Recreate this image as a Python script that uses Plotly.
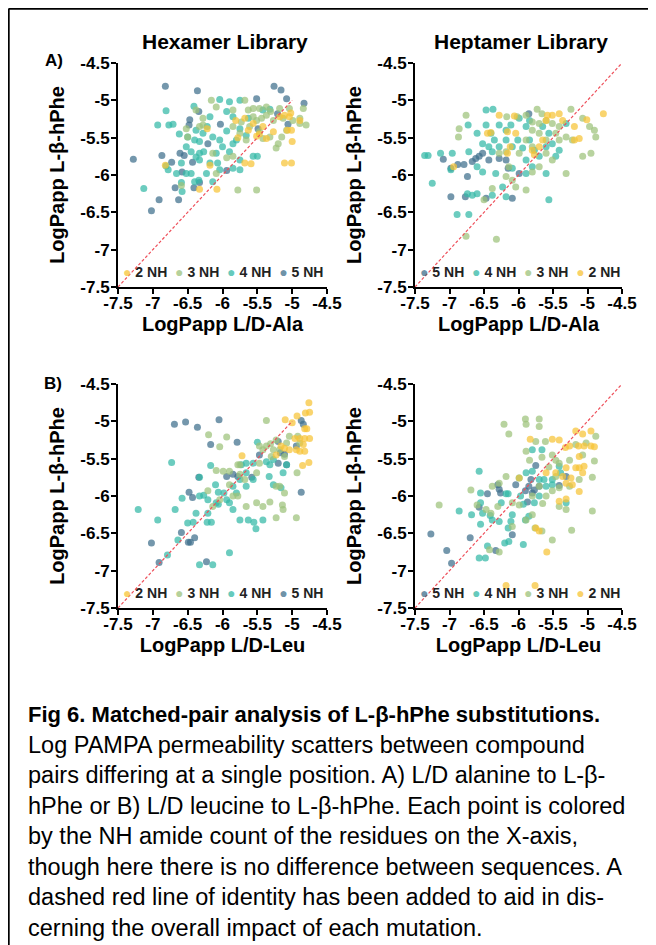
import plotly.graph_objects as go

# page is offset by the browser's 8px body margin; coordinates below are reference pixels
OX, OY = 8, 8
W, H = 656 - OX, 945 - OY

# ---------------- tick labels / categories ----------------
tick_vals = [-7.5, -7, -6.5, -6, -5.5, -5, -4.5]
tick_text = ["-7.5", "-7", "-6.5", "-6", "-5.5", "-5", "-4.5"]
nh_counts = [2, 3, 4, 5]
nh_colors = {2: (247, 196, 54), 3: (157, 194, 122), 4: (51, 185, 166), 5: (63, 111, 140)}

# ---------------- data (x, y) per panel and NH count ----------------
hex_ala_5nh = [(-6.82,-4.81),(-6.36,-4.87),(-7.28,-5.79),(-6.87,-5.74),(-6.34,-5.15),(-6.48,-5.33),(-6.21,-5.58),
               (-6.73,-5.83),(-6.61,-5.71),(-6.55,-5.74),(-6.43,-5.83),(-6.41,-6.17),(-6.68,-6.17),(-6.63,-6.33),
               (-6.91,-6.33),(-7.02,-6.48),(-6.58,-5.96),(-6.03,-5.32),(-5.94,-5.94),(-5.51,-4.98),(-5.26,-4.81),
               (-5.16,-4.86),(-5.08,-4.98),(-5.06,-5.32),(-4.83,-5.04),(-5.21,-5.18),(-5.49,-5.38),(-6.33,-6.10),
               (-6.47,-5.26)]
hex_ala_4nh = [(-7.13,-6.18),(-6.93,-5.33),(-6.81,-5.14),(-6.77,-5.33),(-6.71,-5.32),(-6.62,-5.45),(-6.50,-5.49),
               (-6.58,-6.22),(-6.78,-5.93),(-6.81,-5.88),(-6.66,-5.98),(-6.45,-5.98),(-6.34,-6.07),(-6.41,-5.08),
               (-6.33,-5.55),(-6.28,-5.44),(-6.22,-5.35),(-6.14,-5.49),(-6.04,-4.99),(-5.90,-5.02),(-5.75,-5.00),
               (-6.09,-5.71),(-6.07,-5.84),(-6.00,-5.62),(-5.90,-5.69),(-5.85,-5.58),(-5.80,-5.53),(-5.75,-5.38),
               (-5.66,-5.47),(-5.63,-5.24),(-5.94,-5.15),(-6.33,-5.71),(-6.38,-5.76),(-6.27,-5.69),(-6.18,-5.84),
               (-6.23,-5.98),(-6.14,-6.09),(-6.40,-6.09),(-6.52,-5.98),(-6.59,-5.84),(-5.56,-5.75),(-5.50,-5.75),
               (-5.42,-5.13),(-5.32,-5.12),(-5.75,-5.80),(-5.85,-5.91),(-6.04,-5.93),(-5.94,-5.41),(-6.18,-5.22),
               (-5.75,-5.93),(-6.04,-5.53),(-6.40,-5.53),(-6.38,-5.40),(-6.45,-5.69),(-6.52,-5.62),(-6.59,-6.10),
               (-5.85,-5.22),(-6.33,-5.80)]
hex_ala_3nh = [(-6.16,-5.00),(-6.38,-5.13),(-6.28,-5.33),(-6.52,-5.38),(-6.50,-5.49),(-6.09,-5.09),(-5.85,-5.13),
               (-5.68,-5.00),(-5.63,-5.13),(-5.56,-5.11),(-5.47,-5.11),(-5.37,-5.09),(-5.31,-5.15),(-5.18,-5.11),
               (-5.04,-5.11),(-4.84,-5.11),(-5.85,-5.35),(-5.73,-5.29),(-5.56,-5.22),(-5.51,-5.27),(-5.44,-5.24),
               (-5.37,-5.20),(-5.27,-5.27),(-5.13,-5.24),(-4.99,-5.27),(-4.89,-5.31),(-4.80,-5.33),(-4.89,-5.24),
               (-5.08,-5.40),(-5.15,-5.49),(-5.23,-5.64),(-5.20,-5.58),(-5.42,-5.51),(-5.66,-5.53),(-5.75,-5.44),
               (-5.78,-6.20),(-5.51,-6.20),(-6.09,-5.98),(-6.14,-5.71),(-6.33,-5.35),(-6.28,-5.24),(-5.85,-5.75),
               (-5.94,-5.77),(-6.59,-6.14),(-5.61,-5.35),(-5.32,-5.49),(-5.47,-5.42)]
hex_ala_2nh = [(-6.82,-5.87),(-6.33,-6.19),(-6.08,-6.19),(-6.18,-5.87),(-6.22,-5.38),(-5.78,-5.50),(-5.81,-5.27),
               (-5.68,-5.84),(-5.59,-5.85),(-5.51,-5.48),(-5.47,-5.45),(-5.42,-5.35),(-5.37,-5.51),(-5.27,-5.42),
               (-5.18,-5.22),(-5.11,-5.20),(-5.04,-5.22),(-5.02,-5.17),(-5.07,-5.40),(-5.01,-5.40),(-5.00,-5.55),
               (-5.11,-5.84),(-5.01,-5.84),(-4.89,-5.27),(-5.56,-5.31),(-5.63,-5.40),(-5.68,-5.24)]

hept_ala_5nh = [(-6.98,-6.29),(-6.77,-6.29),(-6.47,-6.31),(-6.09,-6.31),(-6.88,-5.86),(-6.79,-5.86),(-6.67,-5.82),
                (-6.57,-5.75),(-6.52,-5.71),(-6.43,-5.80),(-6.62,-5.78),(-6.28,-5.78),(-6.18,-5.80),(-5.99,-5.98),
                (-5.85,-5.18),(-6.74,-6.02),(-7.09,-5.79),(-6.98,-5.91),(-6.15,-5.91)]
hept_ala_4nh = [(-7.36,-5.74),(-7.31,-5.74),(-7.25,-6.11),(-7.13,-5.71),(-6.96,-5.71),(-6.98,-5.93),(-6.89,-6.53),
                (-6.72,-6.53),(-6.74,-6.25),(-6.67,-6.27),(-6.60,-6.25),(-6.72,-5.69),(-6.73,-5.33),(-6.60,-5.44),
                (-6.47,-5.33),(-6.37,-5.12),(-6.40,-5.44),(-6.35,-5.53),(-6.28,-5.33),(-6.18,-5.40),(-6.11,-5.33),
                (-5.99,-5.24),(-5.89,-5.35),(-5.84,-5.27),(-6.43,-5.62),(-6.52,-5.58),(-6.38,-5.69),(-6.28,-5.62),
                (-6.18,-5.53),(-6.09,-5.62),(-6.01,-5.53),(-5.94,-5.64),(-5.84,-5.53),(-5.77,-5.67),(-5.70,-5.75),
                (-5.60,-5.62),(-5.51,-5.58),(-5.41,-5.67),(-5.31,-5.31),(-5.65,-5.35),(-5.56,-5.44),(-6.09,-5.91),
                (-6.18,-6.29),(-6.23,-6.16),(-6.38,-6.27),(-6.33,-5.98),(-6.52,-5.96),(-6.60,-5.89),(-5.89,-5.80),
                (-5.80,-5.89),(-5.60,-5.98),(-5.56,-6.33),(-5.89,-5.98),(-5.46,-5.75),(-6.47,-5.13)]
hept_ala_3nh = [(-6.86,-5.38),(-6.87,-5.49),(-6.76,-5.20),(-6.76,-6.82),(-6.32,-6.86),(-6.38,-6.18),(-6.50,-6.33),
                (-6.17,-5.22),(-6.02,-5.22),(-5.89,-5.20),(-5.73,-5.12),(-5.66,-5.18),(-5.80,-5.29),(-5.70,-5.31),
                (-5.60,-5.27),(-5.51,-5.31),(-5.41,-5.35),(-5.24,-5.12),(-5.07,-5.24),(-4.97,-5.35),(-4.90,-5.40),
                (-4.88,-5.49),(-4.95,-5.71),(-5.07,-5.75),(-5.22,-5.53),(-5.31,-5.49),(-5.41,-5.53),(-5.31,-5.98),
                (-5.51,-5.80),(-5.60,-5.71),(-5.70,-5.89),(-5.80,-5.96),(-5.89,-6.20),(-6.04,-6.16),(-6.09,-6.07),
                (-6.18,-6.02),(-6.28,-5.71),(-6.18,-5.69),(-5.89,-5.53),(-5.80,-5.62),(-5.60,-5.53),(-5.46,-5.44),
                (-6.14,-5.89),(-5.99,-5.71),(-5.70,-5.44),(-5.80,-5.40)]
hept_ala_2nh = [(-4.77,-5.18),(-5.01,-5.26),(-5.19,-5.35),(-5.12,-5.51),(-5.19,-5.53),(-5.36,-5.27),(-5.51,-5.20),
                (-5.58,-5.20),(-5.60,-5.27),(-5.65,-5.53),(-5.80,-5.67),(-5.77,-5.73),(-5.70,-5.62),(-6.06,-5.21),
                (-6.28,-5.20),(-6.45,-5.44),(-6.40,-5.43),(-6.16,-5.42),(-6.04,-5.44),(-6.12,-5.62),(-6.16,-5.71),
                (-6.94,-5.89),(-5.41,-5.18)]

hex_leu_5nh = [(-6.69,-5.04),(-6.53,-5.01),(-6.36,-5.08),(-6.05,-4.98),(-6.17,-5.31),(-5.79,-5.28),(-6.48,-5.95),
               (-6.43,-6.02),(-6.34,-5.75),(-6.59,-6.49),(-6.49,-6.62),(-6.46,-6.62),(-6.40,-6.56),(-7.02,-6.63),
               (-6.91,-6.89),(-6.23,-6.88),(-5.94,-5.74),(-5.85,-5.71),(-5.78,-5.74),(-5.58,-5.75),(-5.47,-5.45),
               (-5.20,-5.27),(-5.17,-5.42),(-5.11,-5.44),(-5.08,-5.58),(-4.94,-5.33),(-4.87,-4.99),(-4.84,-5.04),
               (-4.87,-5.95),(-5.20,-5.56)]
hex_leu_4nh = [(-7.21,-6.18),(-6.93,-6.32),(-6.68,-6.18),(-6.79,-6.79),(-6.64,-6.59),(-6.58,-6.03),(-6.50,-6.36),
               (-6.42,-6.35),(-6.38,-6.23),(-6.33,-6.00),(-6.27,-5.99),(-6.21,-6.05),(-6.21,-6.23),(-6.16,-6.35),
               (-6.22,-6.35),(-6.17,-5.59),(-6.33,-5.75),(-6.73,-5.55),(-6.10,-5.85),(-6.09,-6.09),(-6.06,-5.95),
               (-5.98,-5.96),(-5.94,-6.05),(-5.90,-6.09),(-5.85,-5.87),(-5.80,-5.96),(-5.75,-5.78),(-5.66,-5.87),
               (-5.66,-5.69),(-5.56,-5.78),(-5.85,-6.18),(-5.75,-6.32),(-5.63,-6.32),(-5.55,-6.35),(-5.52,-6.44),
               (-5.42,-6.32),(-5.33,-5.74),(-5.27,-5.85),(-5.16,-5.89),(-5.32,-5.58),(-5.27,-5.51),(-5.37,-5.54),
               (-5.50,-5.28),(-5.13,-5.69),(-5.08,-5.58),(-5.90,-6.76),(-6.33,-6.92),(-6.14,-6.92),(-6.06,-6.11),
               (-5.66,-5.56),(-5.73,-5.58),(-5.56,-5.56)]
hex_leu_3nh = [(-6.20,-5.18),(-5.94,-5.21),(-6.04,-5.34),(-5.37,-4.99),(-5.75,-5.58),(-6.09,-5.66),(-5.99,-5.67),
               (-5.90,-5.67),(-5.78,-5.58),(-5.85,-6.00),(-5.78,-6.00),(-5.90,-5.85),(-5.66,-6.14),(-5.51,-6.09),
               (-5.42,-6.14),(-5.32,-6.08),(-5.23,-5.87),(-5.18,-5.87),(-5.11,-5.96),(-5.14,-6.12),(-5.13,-6.18),
               (-5.23,-6.29),(-4.94,-6.29),(-4.93,-5.69),(-5.47,-5.33),(-5.42,-5.38),(-5.37,-5.33),(-5.31,-5.30),
               (-5.23,-5.25),(-5.27,-5.38),(-5.18,-5.38),(-5.08,-5.29),(-5.04,-5.20),(-4.92,-5.20),(-4.89,-5.29),
               (-5.47,-5.56),(-5.51,-5.69),(-5.75,-5.71),(-5.68,-5.78),(-6.14,-6.14),(-6.21,-5.93),(-6.04,-6.05),
               (-5.30,-5.47),(-5.11,-5.47)]
hex_leu_2nh = [(-5.72,-5.46),(-5.10,-4.98),(-5.00,-5.02),(-4.93,-4.93),(-4.76,-4.75),(-4.75,-4.88),(-4.81,-4.89),
               (-4.82,-5.10),(-4.79,-5.10),(-4.96,-5.23),(-4.89,-5.23),(-4.82,-5.23),(-4.75,-5.23),(-4.84,-5.31),
               (-4.89,-5.40),(-4.82,-5.40),(-4.76,-5.55),(-4.85,-5.59),(-5.04,-5.38),(-5.11,-5.36),(-5.16,-5.33),
               (-5.23,-5.45),(-4.94,-5.38)]

hept_leu_5nh = [(-7.27,-6.51),(-7.04,-6.73),(-6.97,-6.90),(-6.70,-6.56),(-6.57,-6.15),(-6.45,-5.97),(-6.30,-5.85),
                (-6.28,-5.91),(-6.26,-5.96),(-6.33,-6.73),(-6.09,-6.52),(-6.04,-5.85),(-5.90,-5.93),(-5.85,-5.87),
                (-5.80,-5.96),(-5.77,-5.92),(-5.75,-5.59),(-5.70,-5.87),(-5.87,-6.08),(-5.31,-5.74),(-5.41,-5.86),
                (-5.82,-5.78)]
hept_leu_4nh = [(-6.86,-6.20),(-6.68,-6.25),(-6.57,-5.67),(-6.55,-5.96),(-6.55,-6.09),(-6.52,-6.23),(-6.55,-6.38),
                (-6.57,-6.83),(-6.48,-6.83),(-6.45,-6.67),(-6.41,-6.26),(-6.38,-6.32),(-6.28,-6.34),(-6.25,-6.09),
                (-6.20,-6.63),(-6.14,-6.61),(-6.11,-6.34),(-6.15,-6.43),(-6.09,-6.25),(-6.15,-5.97),(-5.93,-6.65),
                (-5.93,-6.11),(-5.97,-6.00),(-5.90,-6.32),(-5.85,-6.27),(-5.77,-6.09),(-5.70,-6.00),(-5.99,-5.76),
                (-5.89,-5.69),(-5.80,-5.67),(-5.70,-5.78),(-5.63,-5.78),(-5.80,-5.38),(-5.66,-5.38),(-5.60,-5.87),
                (-5.51,-5.85),(-5.41,-5.60),(-5.39,-5.69),(-5.51,-5.78),(-5.31,-6.09),(-6.18,-5.97)]
hept_leu_3nh = [(-7.15,-6.12),(-6.69,-5.92),(-6.60,-6.12),(-6.42,-6.72),(-6.28,-6.75),(-6.14,-5.17),(-6.21,-5.04),
                (-5.90,-4.97),(-5.89,-5.04),(-5.70,-4.97),(-5.70,-5.07),(-5.61,-5.27),(-5.89,-5.40),(-5.84,-5.52),
                (-5.75,-5.27),(-5.66,-5.48),(-5.56,-5.61),(-5.51,-5.45),(-5.46,-5.52),(-5.41,-5.56),(-5.26,-5.52),
                (-5.17,-5.31),(-5.07,-5.45),(-5.02,-5.29),(-4.88,-5.20),(-4.90,-5.53),(-4.93,-5.75),(-4.93,-6.20),
                (-5.23,-6.46),(-5.51,-6.59),(-5.66,-6.47),(-5.76,-6.43),(-5.80,-6.25),(-5.89,-6.32),(-5.99,-6.12),
                (-6.09,-6.09),(-6.18,-5.74),(-6.28,-5.83),(-6.38,-5.87),(-6.47,-6.18),(-6.40,-6.23),(-6.30,-6.14),
                (-5.65,-6.10),(-5.60,-6.00),(-5.51,-5.93),(-5.41,-6.14),(-5.31,-6.18),(-5.26,-5.87),(-5.41,-5.89),
                (-5.70,-5.87),(-5.80,-6.00),(-5.12,-5.78),(-5.46,-5.74),(-6.09,-6.41)]
hept_leu_2nh = [(-6.18,-7.20),(-5.76,-7.20),(-5.59,-6.75),(-5.75,-6.43),(-5.70,-6.47),(-5.99,-5.76),(-5.83,-5.24),
                (-5.51,-5.24),(-5.41,-5.25),(-5.32,-5.35),(-5.26,-5.33),(-5.17,-5.13),(-5.07,-5.17),(-4.95,-5.13),
                (-5.13,-5.33),(-5.05,-5.33),(-4.95,-5.33),(-4.90,-5.34),(-5.12,-5.47),(-5.05,-5.60),(-5.07,-5.69),
                (-5.17,-5.62),(-5.31,-5.62),(-5.24,-5.76),(-5.31,-5.83),(-5.22,-5.85),(-5.12,-5.94),(-5.41,-6.07),
                (-5.31,-6.04),(-5.12,-5.62),(-5.46,-5.69),(-5.60,-5.69),(-5.36,-5.74)]

# identity lines
identity_short = [-7.5, -5.0]
identity_long = [-7.5, -4.5]

# ---------------- layout helpers ----------------
def px(xp):
    return (xp - OX) / W

def py(yp):
    return 1 - (yp - OY) / H

def rgba(c, a):
    return f"rgba({c[0]},{c[1]},{c[2]},{a})"

FONT = "Liberation Sans, Arial, sans-serif"

panels = [
    dict(series={2: hex_ala_2nh, 3: hex_ala_3nh, 4: hex_ala_4nh, 5: hex_ala_5nh},
         xd=(118, 327), yd=(63, 287), xtitle="LogPapp L/D-Ala", order=[2, 3, 4, 5], diag=identity_short),
    dict(series={2: hept_ala_2nh, 3: hept_ala_3nh, 4: hept_ala_4nh, 5: hept_ala_5nh},
         xd=(415, 622), yd=(63, 287), xtitle="LogPapp L/D-Ala", order=[5, 4, 3, 2], diag=identity_long),
    dict(series={2: hex_leu_2nh, 3: hex_leu_3nh, 4: hex_leu_4nh, 5: hex_leu_5nh},
         xd=(118, 327), yd=(384, 608), xtitle="LogPapp L/D-Leu", order=[2, 3, 4, 5], diag=identity_short),
    dict(series={2: hept_leu_2nh, 3: hept_leu_3nh, 4: hept_leu_4nh, 5: hept_leu_5nh},
         xd=(415, 622), yd=(384, 608), xtitle="LogPapp L/D-Leu", order=[5, 4, 3, 2], diag=identity_long),
]

fig = go.Figure()
annotations = []
layout_axes = {}

for i, p in enumerate(panels, start=1):
    xa = "x" if i == 1 else f"x{i}"
    ya = "y" if i == 1 else f"y{i}"
    for nh in [5, 4, 3, 2]:
        pts = p["series"][nh]
        fig.add_trace(go.Scatter(
            x=[a for a, b in pts], y=[b for a, b in pts], mode="markers",
            name=f"{nh} NH", showlegend=False, xaxis=xa, yaxis=ya,
            marker=dict(color=rgba(nh_colors[nh], 1), size=7, opacity=0.72, line=dict(width=0)),
        ))
    fig.add_trace(go.Scatter(
        x=p["diag"], y=p["diag"], mode="lines", showlegend=False, xaxis=xa, yaxis=ya,
        line=dict(color="#EE4F5A", width=1.2, dash="3px,2px"), hoverinfo="skip",
    ))

    common = dict(range=[-7.5, -4.5], tickmode="array", tickvals=tick_vals, ticktext=tick_text,
                  showgrid=False, zeroline=False, showline=True, linecolor="black", linewidth=2,
                  ticks="outside", ticklen=5, tickwidth=2, tickcolor="black", automargin=False,
                  tickfont=dict(family=FONT, size=17, color="black", weight="bold"))
    xkey = "xaxis" if i == 1 else f"xaxis{i}"
    ykey = "yaxis" if i == 1 else f"yaxis{i}"
    layout_axes[xkey] = dict(common, domain=[px(p["xd"][0]), px(p["xd"][1])], anchor=ya,
                             ticklabelstandoff=-5,
                             title=dict(text=p["xtitle"], standoff=3,
                                        font=dict(family=FONT, size=20, color="black", weight="bold")))
    layout_axes[ykey] = dict(common, domain=[py(p["yd"][1]), py(p["yd"][0])], anchor=xa,
                             ticklabelstandoff=-2,
                             title=dict(text="LogPapp L-β-hPhe", standoff=10,
                                        font=dict(family=FONT, size=20, color="black", weight="bold")))

    # legend row inside the plot, along the bottom
    parts = []
    for nh in p["order"]:
        parts.append(f"<span style='color:{rgba(nh_colors[nh], 0.75)};font-size:14px'>●</span>"
                     f"<b>\u00a0{nh}\u00a0NH</b>")
    annotations.append(dict(
        text="\u00a0\u00a0".join(parts), xref="paper", yref="paper",
        x=px(p["xd"][0] + 3), y=py(p["yd"][1] - 15), xanchor="left", yanchor="middle",
        showarrow=False, font=dict(family=FONT, size=14, color="#222"),
    ))

# titles and panel letters
annotations += [
    dict(text="<b>Hexamer Library</b>", x=px(225), y=py(42), xref="paper", yref="paper",
         xanchor="center", yanchor="middle",
         showarrow=False, font=dict(family=FONT, size=21, color="black")),
    dict(text="<b>Heptamer Library</b>", x=px(521), y=py(42), xref="paper", yref="paper",
         xanchor="center", yanchor="middle",
         showarrow=False, font=dict(family=FONT, size=21, color="black")),
    dict(text="<b>A)</b>", x=px(54), y=py(61), xref="paper", yref="paper",
         xanchor="center", yanchor="middle",
         showarrow=False, font=dict(family=FONT, size=17, color="black")),
    dict(text="<b>B)</b>", x=px(53), y=py(383), xref="paper", yref="paper",
         xanchor="center", yanchor="middle",
         showarrow=False, font=dict(family=FONT, size=17, color="black")),
]

caption_lines = [
    "<b><span style='font-size:22px'>Fig 6. Matched-pair analysis of L-β-hPhe substitutions.</span></b>",
    "Log PAMPA permeability scatters between compound",
    "pairs differing at a single position. A) L/D alanine to L-β-",
    "hPhe or B) L/D leucine to L-β-hPhe. Each point is colored",
    "by the NH amide count of the residues on the X-axis,",
    "though here there is no difference between sequences. A",
    "dashed red line of identity has been added to aid in dis-",
    "cerning the overall impact of each mutation.",
]
annotations.append(dict(
    text="<br>".join(caption_lines), x=px(26), y=py(700), xref="paper", yref="paper",
    xanchor="left", yanchor="top", align="left", showarrow=False,
    font=dict(family=FONT, size=23.5, color="black"),
))

shapes = [
    dict(type="line", xref="paper", yref="paper", x0=px(8.5), x1=1, y0=py(8.7), y1=py(8.7),
         line=dict(color="black", width=2)),
    dict(type="line", xref="paper", yref="paper", x0=px(8.7), x1=px(8.7), y0=py(8.7), y1=0,
         line=dict(color="black", width=2)),
]

fig.update_layout(
    template="none",
    width=W, height=H, margin=dict(l=0, r=0, t=0, b=0, autoexpand=False),
    paper_bgcolor="white", plot_bgcolor="white", showlegend=False,
    annotations=annotations, shapes=shapes, **layout_axes,
)

fig.write_html("out.html")
